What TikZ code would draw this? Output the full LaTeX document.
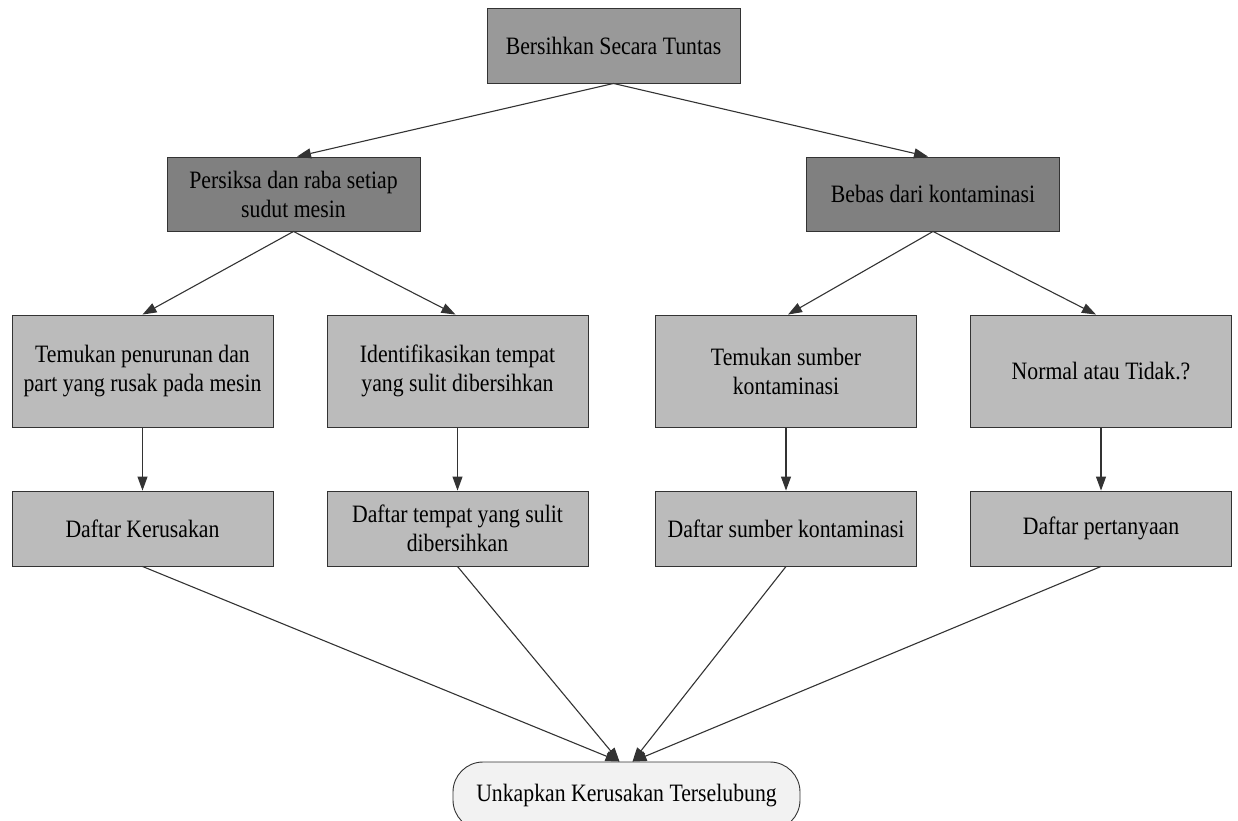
\documentclass[tikz,border=0pt]{standalone}
\usepackage{fontspec}
\setmainfont{Liberation Serif}[FakeStretch=0.87]
\usetikzlibrary{arrows.meta}
\definecolor{edgegray}{HTML}{333333}
\definecolor{rootfill}{HTML}{999999}
\definecolor{midfill}{HTML}{808080}
\definecolor{leaffill}{HTML}{BBBBBB}
\definecolor{endfill}{HTML}{F2F2F2}
\begin{document}
\begin{tikzpicture}[x=1pt,y=-1pt,
  base/.style={draw=edgegray, line width=0.9pt, inner sep=0pt, align=center,
    font=\fontsize{25}{29}\selectfont},
  rootbox/.style={base, fill=rootfill, minimum width=253pt, minimum height=75pt},
  midbox/.style={base, fill=midfill, minimum width=253pt, minimum height=74pt},
  taskbox/.style={base, fill=leaffill, minimum width=261pt, minimum height=112pt},
  listbox/.style={base, fill=leaffill, minimum width=261pt, minimum height=75pt},
  endbox/.style={base, fill=endfill, rounded corners=30pt, minimum width=347pt, minimum height=68pt},
  arr/.style={draw=edgegray, line width=1.1pt, -{Triangle[length=14pt,width=10pt]}}
]
\useasboundingbox (0,0) rectangle (1238,820);

% root and second level
\node[rootbox] (root) at (613.5,45.5) {Bersihkan Secara Tuntas};
\node[midbox] (inspect) at (293.5,194) {Persiksa dan raba setiap\\sudut mesin};
\node[midbox] (free) at (933,194) {Bebas dari kontaminasi};

% third level
\node[taskbox] (find) at (142.5,371) {Temukan penurunan dan\\part yang rusak pada mesin};
\node[taskbox] (ident) at (457.5,371) {Identifikasikan tempat\\yang sulit dibersihkan};
\node[taskbox] (source) at (786,371) {Temukan sumber\\kontaminasi};
\node[taskbox] (normal) at (1101,371) {Normal atau Tidak.?};

% lists
\node[listbox] (damage) at (142.5,528.5) {Daftar Kerusakan};
\node[listbox] (places) at (457.5,528.5) {Daftar tempat yang sulit\\dibersihkan};
\node[listbox] (sources) at (786,528.5) {Daftar sumber kontaminasi};
\node[listbox] (questions) at (1101,528.5) {Daftar pertanyaan};

% final result
\node[endbox] (reveal) at (626.5,796) {Unkapkan Kerusakan Terselubung};

% connectors
\draw[arr] (root.south) -- ([xshift=3.5pt]inspect.north);
\draw[arr] (root.south) -- ([xshift=-5pt]free.north);
\draw[arr] (inspect.south) -- (find.north);
\draw[arr] (inspect.south) -- ([xshift=-2pt]ident.north);
\draw[arr] (free.south) -- ([xshift=2pt]source.north);
\draw[arr] (free.south) -- ([xshift=-5pt]normal.north);
\draw[arr] (find.south) -- (damage.north);
\draw[arr] (ident.south) -- (places.north);
\draw[arr] (source.south) -- (sources.north);
\draw[arr] (normal.south) -- (questions.north);
\draw[arr] (damage.south) -- ([xshift=-7pt]reveal.north);
\draw[arr] (places.south) -- ([xshift=-7pt]reveal.north);
\draw[arr] (sources.south) -- ([xshift=6pt]reveal.north);
\draw[arr] (questions.south) -- ([xshift=6pt]reveal.north);
\end{tikzpicture}
\end{document}
